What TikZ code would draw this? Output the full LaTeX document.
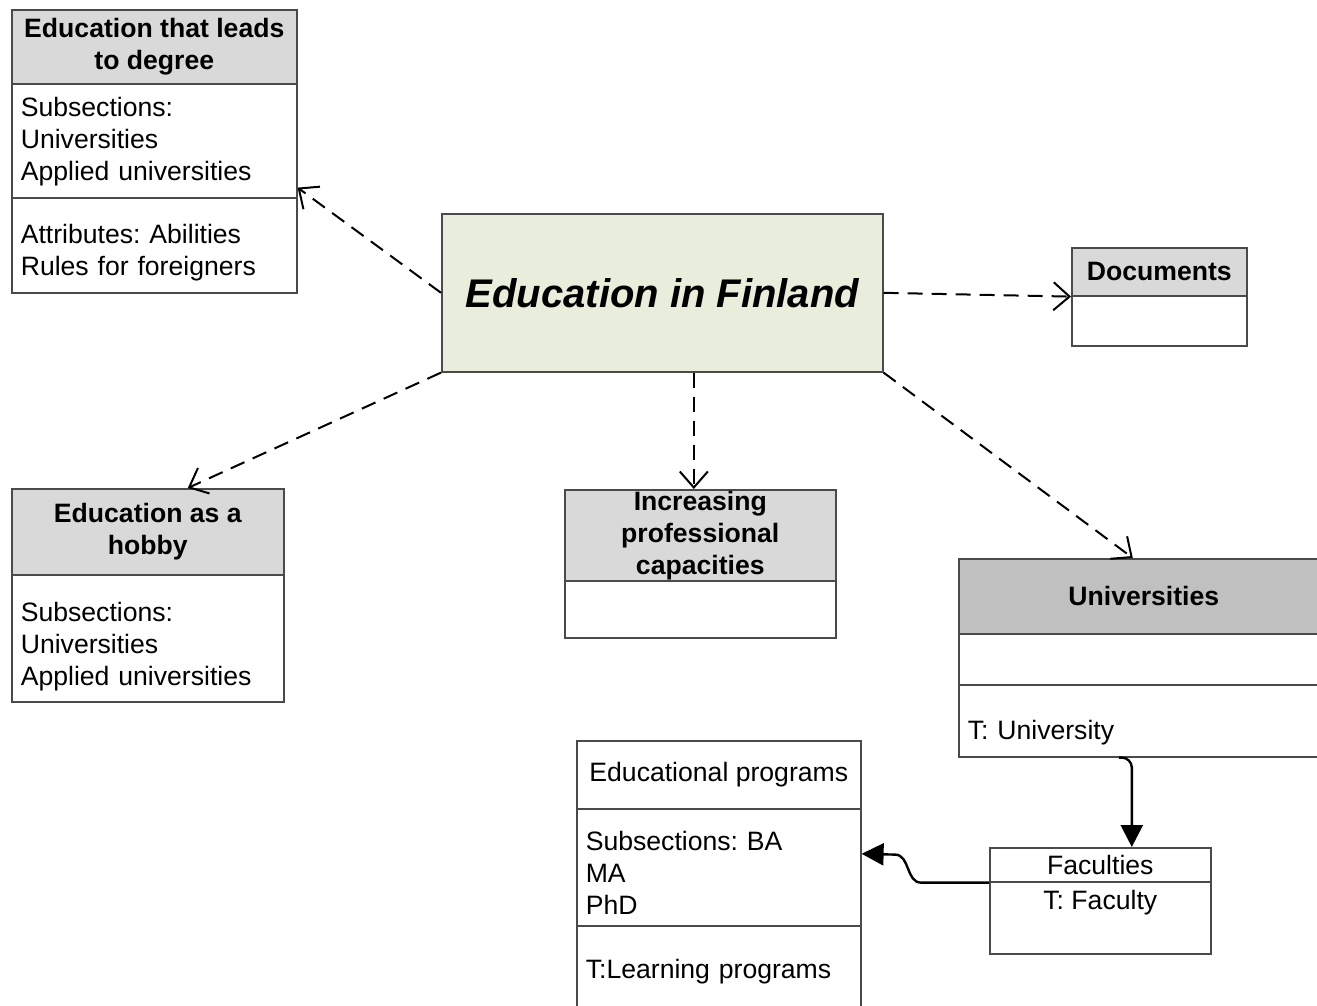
\documentclass[tikz,border=0pt]{standalone}
\usepackage{fontspec}
\setmainfont{Liberation Sans}
\frenchspacing
\usetikzlibrary{arrows.meta}
\definecolor{boxline}{HTML}{4A4A4A}
\definecolor{headgray}{HTML}{D9D9D9}
\definecolor{unigray}{HTML}{C0C0C0}
\definecolor{finfill}{HTML}{E9EEDC}
\tikzset{
  box/.style={draw=boxline, line width=1.6pt, anchor=north west, inner sep=0pt},
  head/.style={box, fill=headgray, font=\bfseries\fontsize{26.6}{32}\selectfont, align=center},
  title/.style={box, fill=white, font=\fontsize{26.6}{32}\selectfont, align=center},
  blank/.style={box, fill=white},
  cell/.style 2 args={box, fill=white, font=\fontsize{26.6}{32}\selectfont, align=left,
    inner xsep=9pt, text height=#1, text depth=#2},
  dep/.style={line width=2pt, dash pattern=on 15pt off 9pt,
    -{Straight Barb[length=16pt,width=28pt,line width=2pt]}},
  solidlink/.style={line width=2.4pt, -{Triangle[length=22pt,width=22pt]}}
}
\begin{document}
\begin{tikzpicture}[x=1pt, y=-1pt]
  \useasboundingbox (0,0) rectangle (1317,1005);

  % degree
  \node[head, minimum width=285pt, minimum height=74pt] (degH) at (11,9) {Education that leads\\to degree};
  \node[cell={32.5pt}{81.5pt}, text width=267pt] (degS1) at (11,83) {Subsections:\\Universities\\Applied universities};
  \node[cell={45.5pt}{49.5pt}, text width=267pt] (degS2) at (11,197) {Attributes: Abilities\\Rules for foreigners};

  % main box
  \node[box, fill=finfill, minimum width=441pt, minimum height=158pt,
    font=\bfseries\itshape\fontsize{40}{48}\selectfont] (finland) at (441,213) {Education in Finland};

  % documents
  \node[head, minimum width=175pt, minimum height=48pt] (docH) at (1071,247) {Documents};
  \node[blank, minimum width=175pt, minimum height=50pt] (docS) at (1071,295) {};

  % hobby
  \node[head, minimum width=272pt, minimum height=86pt] (hobH) at (11,488) {Education as a\\hobby};
  \node[cell={46.5pt}{80.5pt}, text width=254pt] (hobS) at (11,574) {Subsections:\\Universities\\Applied universities};

  % professional capacities
  \node[head, minimum width=271pt, minimum height=91pt] (incH) at (564,489) {Increasing\\professional\\capacities};
  \node[blank, minimum width=271pt, minimum height=57pt] (incS) at (564,580) {};

  % universities
  \node[head, fill=unigray, minimum width=370pt, minimum height=75pt] (uniH) at (958,558) {Universities};
  \node[blank, minimum width=370pt, minimum height=51pt] (uniS1) at (958,633) {};
  \node[cell={54.5pt}{17.5pt}, text width=352pt] (uniS2) at (958,684) {T: University};

  % programs
  \node[title, minimum width=284pt, minimum height=68pt] (eduH) at (576,740) {Educational programs};
  \node[cell={41.5pt}{75.5pt}, text width=266pt] (eduS1) at (576,808) {Subsections: BA\\MA\\PhD};
  \node[cell={52.5pt}{33.5pt}, text width=266pt] (eduS2) at (576,925) {T:Learning programs};

  % faculties
  \node[title, minimum width=221pt, minimum height=34pt] (facH) at (989,847) {Faculties};
  \node[title, minimum width=221pt, text height=27.5pt, text depth=44.5pt] (facS) at (989,881) {T: Faculty};

  \draw[dep] (finland.west) -- ([yshift=11pt]degS1.south east);
  \draw[dep] (finland.east) -- (docH.south west);
  \draw[dep] (finland.south west) -- ([xshift=40pt]hobH.north);
  \draw[dep] ([xshift=31.5pt]finland.south) -- ([xshift=-6.5pt]incH.north);
  \draw[dep] (finland.south east) -- ([xshift=-11pt]uniH.north);

  \draw[solidlink, rounded corners=10pt] ([xshift=-25pt]uniS2.south) -| ([xshift=31.5pt]facH.north);
  \draw[solidlink] (facH.south west) -- ++(-68,0) to[out=180,in=0] ++(-26,-28)
    -- ([yshift=13.5pt]eduS1.east);
\end{tikzpicture}
\end{document}
